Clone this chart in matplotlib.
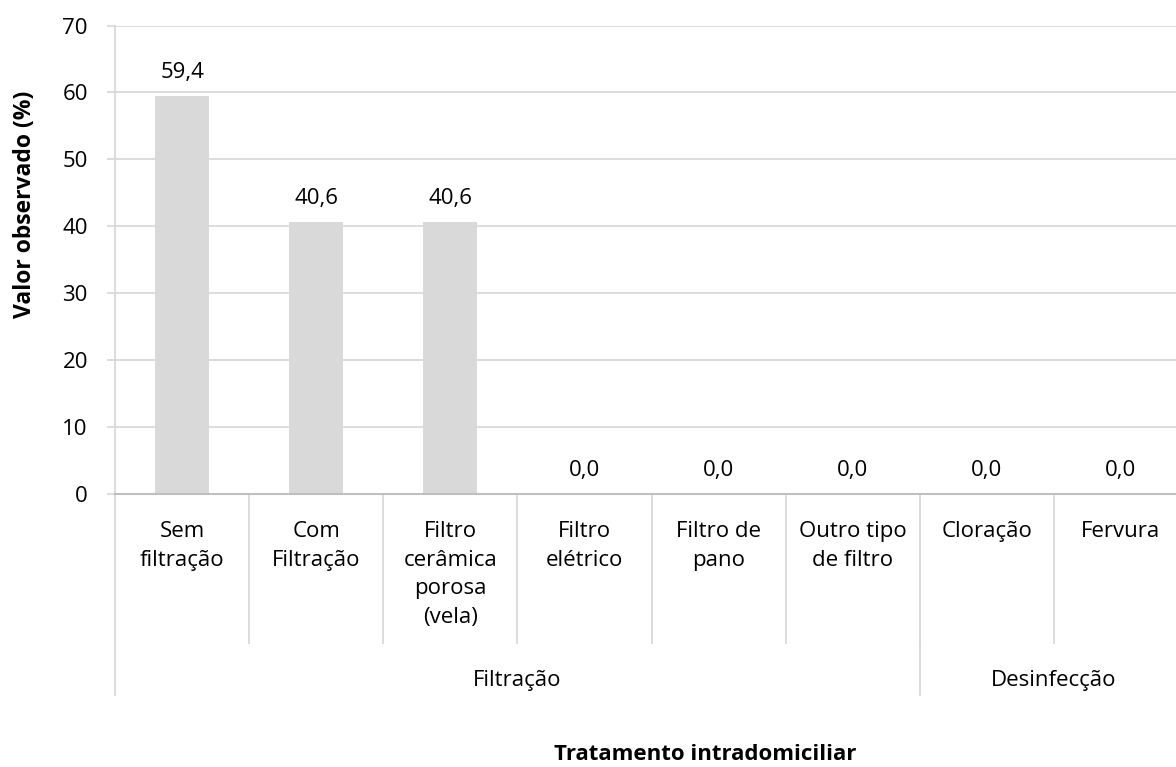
import matplotlib
matplotlib.use("Agg")
import matplotlib.pyplot as plt
from matplotlib.transforms import blended_transform_factory

plt.rcParams["font.family"] = ["Open Sans", "DejaVu Sans"]

# Data
categories = ["Sem\nfiltração", "Com\nFiltração", "Filtro\ncerâmica\nporosa\n(vela)",
              "Filtro\nelétrico", "Filtro de\npano", "Outro tipo\nde filtro",
              "Cloração", "Fervura"]
values = [59.4, 40.6, 40.6, 0.0, 0.0, 0.0, 0.0, 0.0]
groups = ["Filtração", "Desinfecção"]
group_sizes = [6, 2]
y_ticks = [0, 10, 20, 30, 40, 50, 60, 70]

W, H = 1176, 767
fig = plt.figure(figsize=(W / 100, H / 100), dpi=100)

# plot area in pixel terms (right edge runs slightly past the canvas)
px_left, px_right, px_top, px_bottom = 115, 1188, 25.5, 494
ax = fig.add_axes([px_left / W, 1 - px_bottom / H,
                   (px_right - px_left) / W, (px_bottom - px_top) / H])

grid_c = "#d9d9d9"
axis_c = "#bfbfbf"
bar_c = "#d9d9d9"
fs = 16

x = list(range(len(categories)))
ax.bar(x, values, width=0.4, color=bar_c, zorder=3)
ax.set_xlim(-0.5, len(categories) - 0.5)
ax.set_ylim(0, 70)
ax.set_yticks(y_ticks)
ax.set_yticklabels([str(t) for t in y_ticks], fontsize=fs)
ax.yaxis.grid(True, color=grid_c, linewidth=1.3, zorder=0)
ax.set_axisbelow(True)
ax.tick_params(axis="y", length=6, width=1.3, color=grid_c, pad=13.5)
ax.set_xticks([])
for s in ["top", "right", "bottom"]:
    ax.spines[s].set_visible(False)
ax.spines["left"].set_color(grid_c)
ax.spines["left"].set_linewidth(1.3)

# value labels
for xi, v in zip(x, values):
    ax.annotate(f"{v:.1f}".replace(".", ","), (xi, v), xytext=(0, 13),
                textcoords="offset points", ha="center", va="baseline",
                fontsize=fs, zorder=4)

# horizontal category axis line
ax.axhline(0, color=axis_c, linewidth=1.5, zorder=4, clip_on=False)


def ay(py):
    """pixel row -> axes fraction"""
    return (px_bottom - py) / (px_bottom - px_top)


tr = blended_transform_factory(ax.transData, ax.transAxes)

# category separators
for b in [i + 0.5 for i in range(len(categories) - 1)]:
    ax.plot([b, b], [0, ay(643)], transform=tr, color=grid_c, lw=1.3,
            clip_on=False)

# group separators
edges = [-0.5]
for n in group_sizes:
    edges.append(edges[-1] + n)
for e in edges:
    ax.plot([e, e], [0, ay(695)], transform=tr, color=grid_c, lw=1.3,
            clip_on=False)

# category labels
for xi, lab in zip(x, categories):
    ax.text(xi, ay(521), lab, transform=tr, ha="center", va="top",
            fontsize=fs, linespacing=1.48, clip_on=False)

# group labels
for i, g in enumerate(groups):
    c = (edges[i] + edges[i + 1]) / 2
    ax.text(c, ay(681), g, transform=tr, ha="center", va="center",
            fontsize=fs, clip_on=False)

# axis titles
fig.text(25 / W, 1 - 204 / H, "Valor observado (%)", rotation=90,
         ha="center", va="center", fontsize=16.5, fontweight="bold")
fig.text(705 / W, 1 - 754 / H, "Tratamento intradomiciliar",
         ha="center", va="center", fontsize=16, fontweight="bold")

fig.savefig("out.png", dpi=100)
